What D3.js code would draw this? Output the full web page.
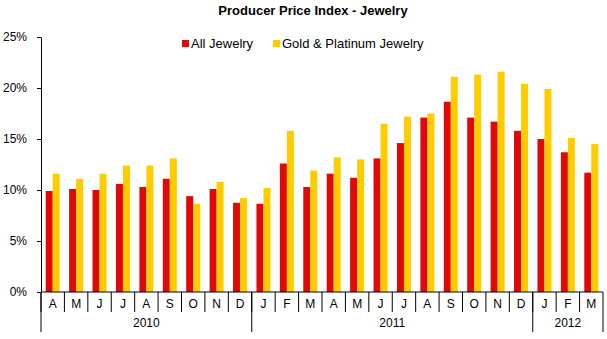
<!DOCTYPE html>
<html>
<head>
<meta charset="utf-8">
<script src="https://cdn.jsdelivr.net/npm/d3@7"></script>
<style>
  body { margin: 0; background: #fff; }
  text { font-family: "Liberation Sans", Arial, sans-serif; fill: #000; }
</style>
</head>
<body>
<div id="chart"></div>
<script>
// months Apr 2010 .. Mar 2012
const months = ["A","M","J","J","A","S","O","N","D",
                "J","F","M","A","M","J","J","A","S","O","N","D",
                "J","F","M"];
const years = [
  {label: "2010", count: 9},
  {label: "2011", count: 12},
  {label: "2012", count: 3}
];
const allJewelry = [9.9, 10.1, 10.0, 10.6, 10.3, 11.1, 9.4, 10.1, 8.75,
                    8.65, 12.6, 10.3, 11.6, 11.2, 13.1, 14.6, 17.1, 18.65, 17.1, 16.7, 15.8,
                    15.0, 13.7, 11.7];
const goldPlatinum = [11.6, 11.1, 11.6, 12.4, 12.4, 13.1, 8.65, 10.8, 9.2,
                      10.2, 15.8, 11.9, 13.2, 13.0, 16.5, 17.2, 17.5, 21.1, 21.3, 21.6, 20.4,
                      19.9, 15.1, 14.5];
const yTicks = [0, 5, 10, 15, 20, 25];
const seriesNames = ["All Jewelry", "Gold & Platinum Jewelry"];
const seriesColors = ["#e00808", "#ffcc00"];

const width = 607, height = 339;
const margin = {top: 37, right: 4, bottom: 47, left: 41};

const svg = d3.select("#chart").append("svg")
  .attr("width", width)
  .attr("height", height);

const idx = d3.range(months.length);
const x = d3.scaleBand()
  .domain(idx)
  .range([margin.left, width - margin.right])
  .paddingInner(0)
  .paddingOuter(0);

const y = d3.scaleLinear()
  .domain([0, 25])
  .range([height - margin.bottom, margin.top]);

const bw = 7;
const sub = d3.scaleBand().domain([0, 1]).range([0, bw * 2]);

// title
svg.append("text")
  .attr("x", 313)
  .attr("y", 15)
  .attr("text-anchor", "middle")
  .attr("font-weight", "bold")
  .attr("font-size", "13px")
  .text("Producer Price Index - Jewelry");

// bars
[allJewelry, goldPlatinum].forEach(function(vals, s) {
  svg.append("g").selectAll("rect")
    .data(vals)
    .enter().append("rect")
    .attr("x", (d, i) => x(i) + (x.bandwidth() - bw * 2) / 2 + sub(s))
    .attr("width", bw)
    .attr("y", d => y(d))
    .attr("height", d => y(0) - y(d))
    .attr("fill", seriesColors[s]);
});

// y axis
const yAxis = d3.axisLeft(y)
  .tickValues(yTicks)
  .tickFormat(d => d + "%")
  .tickSize(4)
  .tickSizeOuter(0);
const gy = svg.append("g")
  .attr("transform", "translate(" + margin.left + ",0)")
  .call(yAxis);
gy.select(".domain").attr("stroke", "#000");
gy.selectAll(".tick line").attr("stroke", "#000");
gy.selectAll(".tick text")
  .attr("x", -14)
  .attr("font-size", "12px")
  .style("font-family", "'Liberation Sans', Arial, sans-serif");

// x axis: baseline
const y0 = y(0);
const gx = svg.append("g");
gx.append("line")
  .attr("x1", margin.left).attr("x2", width - margin.right)
  .attr("y1", y0).attr("y2", y0)
  .attr("stroke", "#000");

// month separators
idx.forEach(function(i) {
  gx.append("line")
    .attr("x1", x(i)).attr("x2", x(i))
    .attr("y1", y0).attr("y2", y0 + 20)
    .attr("stroke", "#000");
});
gx.selectAll("text.month")
  .data(months)
  .enter().append("text")
  .attr("class", "month")
  .attr("x", (d, i) => x(i) + x.bandwidth() / 2)
  .attr("y", y0 + 16)
  .attr("text-anchor", "middle")
  .attr("font-size", "12px")
  .text(d => d);

// year groups
let start = 0;
const yearEdges = [0];
years.forEach(function(yr) {
  const x0 = x(start);
  const end = start + yr.count;
  const x1 = end < months.length ? x(end) : x.range()[1];
  gx.append("text")
    .attr("x", (x0 + x1) / 2)
    .attr("y", y0 + 35)
    .attr("text-anchor", "middle")
    .attr("font-size", "12px")
    .text(yr.label);
  yearEdges.push(end);
  start = end;
});
yearEdges.forEach(function(e) {
  const xe = e < months.length ? x(e) : x.range()[1];
  gx.append("line")
    .attr("x1", xe).attr("x2", xe)
    .attr("y1", y0).attr("y2", y0 + 40)
    .attr("stroke", "#000");
});

// legend
const legend = svg.append("g");
const legX = [182, 273];
seriesNames.forEach(function(name, s) {
  legend.append("rect")
    .attr("x", legX[s]).attr("y", 40)
    .attr("width", 7).attr("height", 7)
    .attr("fill", seriesColors[s]);
  legend.append("text")
    .attr("x", legX[s] + 9)
    .attr("y", 48)
    .attr("font-size", "13px")
    .text(name);
});
</script>
</body>
</html>
